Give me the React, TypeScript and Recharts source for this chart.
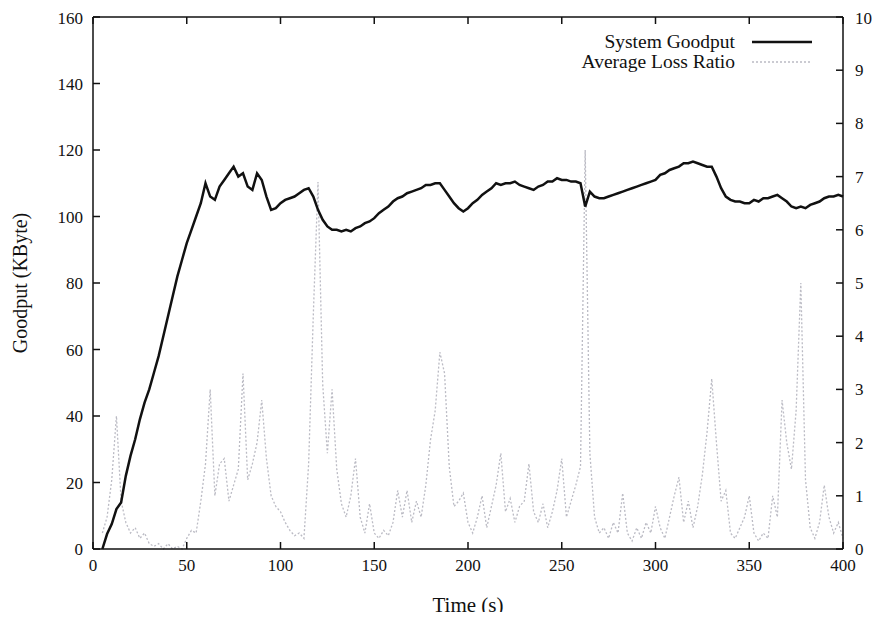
import React from "react";
import { LineChart, Line, XAxis, YAxis, Label } from "recharts";

// sampled every 2.5 s, from t = 0 to t = 400
const goodput: (number | null)[] = [
  null, null, 0, 4.5, 7.5, 12, 14, 22, 28, 33,
  39, 44, 48, 53, 58, 64, 70, 76, 82, 87,
  92, 96, 100, 104, 110, 106, 105, 109, 111, 113,
  115, 112, 113, 109, 108, 113, 111, 106, 102, 102.5,
  104, 105, 105.5, 106, 107, 108, 108.5, 106, 102, 99,
  97, 96, 96, 95.5, 96, 95.5, 96.5, 97, 98, 98.5,
  99.5, 101, 102, 103, 104.5, 105.5, 106, 107, 107.5, 108,
  108.5, 109.5, 109.5, 110, 110, 108, 106, 104, 102.5, 101.5,
  102.5, 104, 105, 106.5, 107.5, 108.5, 110, 109.5, 110, 110,
  110.5, 109.5, 109, 108.5, 108, 109, 109.5, 110.5, 110.5, 111.5,
  111, 111, 110.5, 110.5, 110, 103, 107.5, 106, 105.5, 105.5,
  106, 106.5, 107, 107.5, 108, 108.5, 109, 109.5, 110, 110.5,
  111, 112.5, 113, 114, 114.5, 115, 116, 116, 116.5, 116,
  115.5, 115, 115, 112, 108.5, 106, 105, 104.5, 104.5, 104,
  104, 105, 104.5, 105.5, 105.5, 106, 106.5, 105.5, 104.5, 103,
  102.5, 103, 102.5, 103.5, 104, 104.5, 105.5, 106, 106, 106.5,
  106,
];

const lossRatio: (number | null)[] = [
  null, null, 0.3, 0.6, 1.3, 2.5, 0.9, 0.5, 0.3, 0.4,
  0.2, 0.3, 0.1, 0.05, 0.1, 0, 0.1, 0, 0.05, 0,
  0.2, 0.35, 0.3, 0.9, 1.6, 3.0, 1.0, 1.6, 1.7, 0.9,
  1.2, 1.5, 3.3, 1.3, 1.6, 2.0, 2.8, 1.7, 1.0, 0.8,
  0.7, 0.5, 0.35, 0.25, 0.3, 0.2, 1.6, 4.4, 6.9, 3.1,
  1.8, 3.0, 1.5, 0.85, 0.6, 1.0, 1.7, 0.6, 0.3, 0.85,
  0.3, 0.2, 0.35, 0.25, 0.5, 1.1, 0.6, 1.1, 0.5, 0.9,
  0.6, 1.2, 2.05, 2.6, 3.7, 3.3, 1.55, 0.8, 0.9, 1.05,
  0.5, 0.3, 0.6, 1.0, 0.4, 0.8, 1.2, 1.8, 0.7, 0.95,
  0.5, 0.8, 0.9, 1.6, 0.7, 0.5, 0.85, 0.4, 0.7, 1.1,
  1.7, 0.6, 0.9, 1.2, 1.55, 7.5, 1.8, 0.6, 0.3, 0.4,
  0.2, 0.5, 0.3, 1.05, 0.3, 0.15, 0.4, 0.2, 0.5, 0.3,
  0.8, 0.4, 0.2, 0.6, 1.0, 1.35, 0.5, 0.9, 0.4, 0.8,
  1.4, 2.2, 3.2, 2.0, 0.9, 1.1, 0.3, 0.2, 0.4, 0.6,
  1.0, 0.3, 0.15, 0.3, 0.2, 1.0, 0.6, 2.8, 2.0, 1.5,
  2.6, 5.0, 1.3, 0.4, 0.2, 0.5, 1.2, 0.6, 0.3, 0.5,
  0.2,
];

const xTicks = [0, 50, 100, 150, 200, 250, 300, 350, 400];
const leftTicks = [0, 20, 40, 60, 80, 100, 120, 140, 160];
const rightTicks = [0, 1, 2, 3, 4, 5, 6, 7, 8, 9, 10];

const data = goodput.map((g, i) => ({
  t: i * 2.5,
  goodput: g,
  loss: lossRatio[i],
}));

const font = "'Liberation Serif', 'DejaVu Serif', serif";
const ink = "#111";
const lossColor = "#bbbbc4";
const tickStyle = { fill: ink, fontSize: 17, fontFamily: font };
const axisStroke = { stroke: ink, strokeWidth: 1.5 };

const legendRows = [
  { name: "System Goodput", stroke: ink, dash: undefined, w: 2.5 },
  { name: "Average Loss Ratio", stroke: lossColor, dash: "2 2", w: 1.5 },
];

const LegendBox = () => (
  <div
    style={{
      position: "absolute",
      top: 24,
      right: 62,
      fontFamily: font,
      fontSize: 19.5,
      color: ink,
      lineHeight: "20px",
    }}
  >
    {legendRows.map((row) => (
      <div key={row.name} style={{ display: "flex", justifyContent: "flex-end", alignItems: "center", height: 20 }}>
        <span>{row.name}</span>
        <svg width={77} height={12}>
          <line x1={17} x2={77} y1={6} y2={6} stroke={row.stroke} strokeWidth={row.w} strokeDasharray={row.dash} />
        </svg>
      </div>
    ))}
  </div>
);

export default function App() {
  return (
    <div style={{ fontFamily: font, position: "relative", width: 866, height: 604 }}>
      <LineChart
        width={866}
        height={612}
        data={data}
        margin={{ top: 8, right: 0, left: 0, bottom: 0 }}
      >
        <XAxis
          xAxisId="bottom"
          dataKey="t"
          type="number"
          domain={[0, 400]}
          ticks={xTicks}
          height={71}
          tickSize={-7}
          tickMargin={17}
          tick={tickStyle}
          axisLine={axisStroke}
          tickLine={axisStroke}
        >
          <Label
            content={() => (
              <text x={460} y={597} textAnchor="middle" dominantBaseline="central" fontSize={21} fontFamily={font} fill={ink}>
                Time (s)
              </text>
            )}
          />
        </XAxis>
        <XAxis
          xAxisId="top"
          orientation="top"
          dataKey="t"
          type="number"
          domain={[0, 400]}
          ticks={xTicks}
          height={1}
          tickSize={-7}
          tickFormatter={() => ""}
          axisLine={axisStroke}
          tickLine={axisStroke}
        />
        <YAxis
          yAxisId="left"
          domain={[0, 160]}
          ticks={leftTicks}
          width={85}
          tickSize={-7}
          tickMargin={17}
          tick={tickStyle}
          axisLine={axisStroke}
          tickLine={axisStroke}
        >
          <Label
            content={() => (
              <text x={12} y={275} transform="rotate(-90 12 275)" textAnchor="middle" dominantBaseline="central" fontSize={20} fontFamily={font} fill={ink}>
                Goodput (KByte)
              </text>
            )}
          />
        </YAxis>
        <YAxis
          yAxisId="right"
          orientation="right"
          domain={[0, 10]}
          ticks={rightTicks}
          width={31}
          tickSize={-7}
          tickMargin={19}
          tick={tickStyle}
          axisLine={axisStroke}
          tickLine={axisStroke}
        />
        <Line
          xAxisId="top"
          yAxisId="left"
          dataKey="goodput"
          stroke="none"
          dot={false}
          legendType="none"
          isAnimationActive={false}
        />
        <Line
          xAxisId="bottom"
          yAxisId="right"
          dataKey="loss"
          name="Average Loss Ratio"
          stroke={lossColor}
          strokeWidth={1.3}
          strokeDasharray="2 2"
          dot={false}
          isAnimationActive={false}
        />
        <Line
          xAxisId="bottom"
          yAxisId="left"
          dataKey="goodput"
          name="System Goodput"
          stroke={ink}
          strokeWidth={2.5}
          dot={false}
          isAnimationActive={false}
        />
      </LineChart>
      <LegendBox />
    </div>
  );
}
